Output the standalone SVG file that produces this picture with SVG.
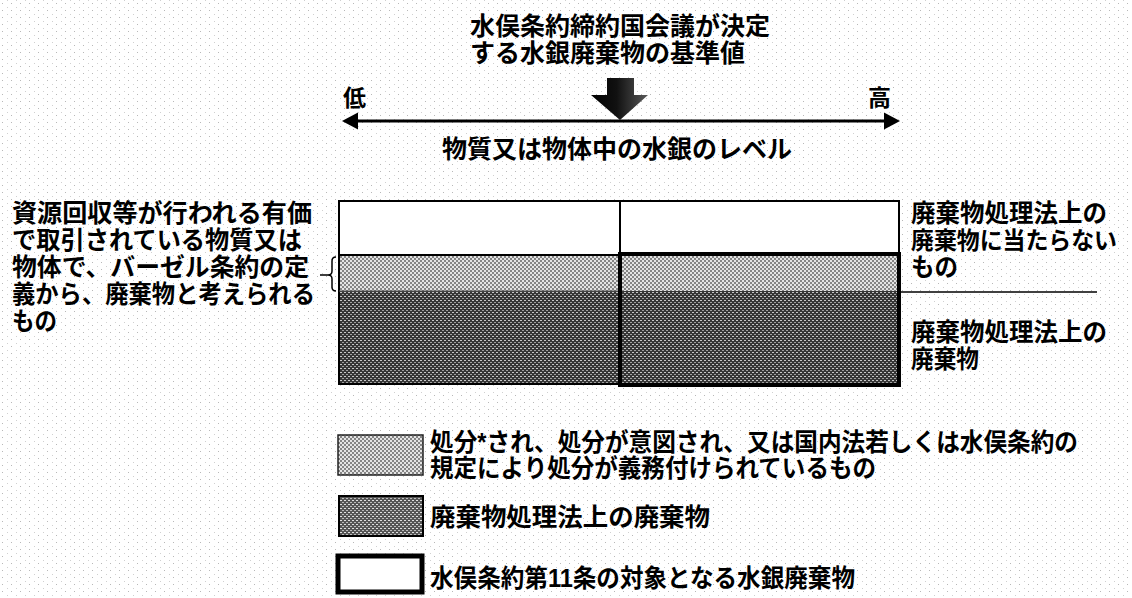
<svg xmlns="http://www.w3.org/2000/svg" width="1132" height="598" viewBox="0 0 1132 598">
<style>
text{font-family:'Liberation Sans','Noto Sans CJK JP',sans-serif;font-size:25px;font-weight:bold;fill:#000;}
.thin{fill:none;stroke:#000;stroke-width:2;}
.thick{fill:none;stroke:#000;stroke-width:4;}
.light{fill:url(#pLight);}
.dark{fill:url(#pDark);}
</style>
<defs>
<pattern id="pBg" width="9" height="7" patternUnits="userSpaceOnUse">
<rect width="9" height="7" fill="#fff"/>
<rect x="2" y="3" width="1" height="1" fill="#b8b8b8"/>
<rect x="7" y="0" width="1" height="1" fill="#d0d0d0"/>
</pattern>
<pattern id="pLight" width="4" height="4" patternUnits="userSpaceOnUse">
<rect width="4" height="4" fill="#e4e4e4"/>
<rect x="0" y="0" width="2" height="2" fill="#858585"/>
<rect x="2" y="2" width="2" height="2" fill="#858585"/>
</pattern>
<pattern id="pDark" width="4" height="4" patternUnits="userSpaceOnUse">
<rect width="4" height="4" fill="#363636"/>
<rect x="0" y="0" width="2" height="1" fill="#c8c8c8"/>
<rect x="2" y="2" width="2" height="1" fill="#a0a0a0"/>
</pattern>
<pattern id="pDark2" width="4" height="4" patternUnits="userSpaceOnUse">
<rect width="4" height="4" fill="#555"/>
<rect x="0" y="0" width="2" height="1" fill="#e0e0e0"/>
<rect x="2" y="2" width="2" height="1" fill="#bbb"/>
</pattern>
<linearGradient id="gArrow" x1="0" y1="0" x2="1" y2="0">
<stop offset="0" stop-color="#000"/>
<stop offset="0.45" stop-color="#111"/>
<stop offset="1" stop-color="#5a5a5a"/>
</linearGradient>
<marker id="head" viewBox="0 -9 16 18" refX="0" refY="0" markerWidth="16" markerHeight="18" markerUnits="userSpaceOnUse" orient="auto-start-reverse">
<path d="M0,-8.5 L16,0 L0,8.5 z" fill="#000"/>
</marker>
</defs>
<rect width="1132" height="598" fill="url(#pBg)"/>

<g id="threshold-label">
<text x="470" y="35" textLength="300" lengthAdjust="spacingAndGlyphs">水俣条約締約国会議が決定</text>
<text x="470" y="62" textLength="275" lengthAdjust="spacingAndGlyphs">する水銀廃棄物の基準値</text>
</g>

<g id="axis-labels">
<text x="343" y="106" style="font-size:23px">低</text>
<text x="868" y="106" style="font-size:23px">高</text>
<text x="442" y="158" textLength="350" lengthAdjust="spacingAndGlyphs">物質又は物体中の水銀のレベル</text>
</g>

<g id="chart">
<rect x="339" y="201" width="281" height="54" fill="#fff"/>
<rect x="620" y="201" width="279" height="53" fill="#fff"/>
<rect class="light" x="339" y="255" width="560" height="36"/>
<rect class="dark" x="339" y="291" width="560" height="93"/>
<rect class="thin" x="339" y="201" width="560" height="54"/>
<rect class="thin" x="339" y="201" width="281" height="183"/>
<line x1="339" y1="291" x2="620" y2="291" stroke="#555" stroke-width="1"/>
</g>

<g id="article11-box">
<rect class="thick" x="620" y="254" width="279" height="131"/>
</g>

<g id="left-label">
<text x="12" y="222" textLength="300" lengthAdjust="spacingAndGlyphs">資源回収等が行われる有価</text>
<text x="12" y="249" textLength="290" lengthAdjust="spacingAndGlyphs">で取引されている物質又は</text>
<text x="12" y="276" textLength="297" lengthAdjust="spacingAndGlyphs">物体で、バーゼル条約の定</text>
<text x="12" y="303" textLength="303" lengthAdjust="spacingAndGlyphs">義から、廃棄物と考えられる</text>
<text x="12" y="330" textLength="45" lengthAdjust="spacingAndGlyphs">もの</text>
</g>

<g id="right-label-upper">
<text x="911" y="222" textLength="196" lengthAdjust="spacingAndGlyphs">廃棄物処理法上の</text>
<text x="911" y="249" style="font-size:24px" textLength="206" lengthAdjust="spacingAndGlyphs">廃棄物に当たらない</text>
<text x="911" y="276" textLength="47" lengthAdjust="spacingAndGlyphs">もの</text>
</g>

<g id="right-label-lower">
<text x="911" y="341" textLength="196" lengthAdjust="spacingAndGlyphs">廃棄物処理法上の</text>
<text x="911" y="368" textLength="68" lengthAdjust="spacingAndGlyphs">廃棄物</text>
</g>

<g id="legend-disposal">
<rect class="light" x="338" y="435" width="85" height="40" style="stroke:#222;stroke-width:1.5"/>
<text x="430" y="451" textLength="648" lengthAdjust="spacingAndGlyphs">処分*され、処分が意図され、又は国内法若しくは水俣条約の</text>
<text x="430" y="477" textLength="446" lengthAdjust="spacingAndGlyphs">規定により処分が義務付けられているもの</text>
</g>

<g id="legend-waste">
<rect x="339" y="496" width="84" height="40" fill="url(#pDark2)" stroke="#000" stroke-width="2"/>
<text x="430" y="526" textLength="280" lengthAdjust="spacingAndGlyphs">廃棄物処理法上の廃棄物</text>
</g>

<g id="legend-article11">
<rect x="338" y="556" width="84" height="36" fill="#fff" stroke="#000" stroke-width="5"/>
<text x="430" y="587" textLength="425" lengthAdjust="spacingAndGlyphs">水俣条約第11条の対象となる水銀廃棄物</text>
</g>

<g id="connectors">
<line x1="358" y1="121" x2="884" y2="121" stroke="#000" stroke-width="3" marker-start="url(#head)" marker-end="url(#head)"/>
<path d="M607,78 L634,78 L634,95 L648,95 L620,120 L591,95 L607,95 z" fill="url(#gArrow)"/>
<path d="M336,257 Q332,257 332,261 L332,271 Q332,275 328,275 L320,275 M328,275 Q332,275 332,279 L332,287 Q332,291 336,291" fill="none" stroke="#000" stroke-width="1.5"/>
<line x1="901" y1="292" x2="1097" y2="292" stroke="#000" stroke-width="1.5"/>
</g>
</svg>
